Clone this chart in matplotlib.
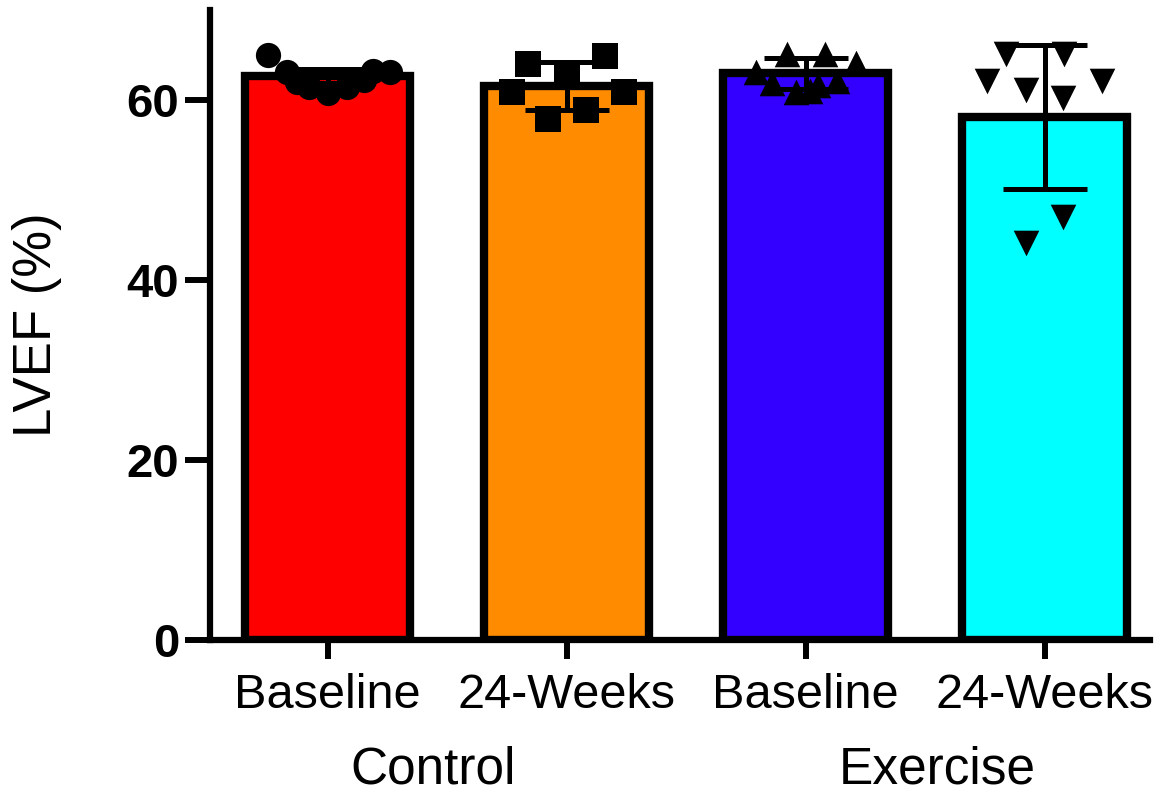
import matplotlib
matplotlib.use("Agg")
import matplotlib.pyplot as plt
import numpy as np

plt.rcParams['font.family'] = ['Liberation Sans', 'DejaVu Sans']

# bar labels and groups
tick_labels = ['Baseline', '24-Weeks', 'Baseline', '24-Weeks']
groups = ['Control', 'Exercise']
group_x = [0.44, 2.55]

# means and SD
means = [62.7, 61.6, 63.0, 58.1]
sds = [0.8, 2.7, 1.7, 8.0]

# individual points (jitter offset, value)
ctrl_base_x = [-0.25, -0.17, -0.13, -0.08, 0.0, 0.08, 0.15, 0.19, 0.26]
ctrl_base_y = [65.0, 63.1, 62.0, 61.5, 60.8, 61.5, 62.3, 63.3, 63.1]
ctrl_24_x = [-0.16, 0.16, -0.23, 0.24, -0.08, 0.08, 0.0]
ctrl_24_y = [64.0, 64.9, 60.9, 60.9, 57.9, 58.9, 63.0]
ex_base_x = [-0.08, 0.08, 0.21, -0.21, -0.14, 0.05, -0.04, 0.02, 0.13]
ex_base_y = [65.2, 65.2, 64.1, 63.1, 61.9, 61.7, 60.9, 61.0, 62.2]
ex_24_x = [-0.16, 0.08, -0.24, -0.08, 0.24, 0.075, 0.075, -0.08]
ex_24_y = [65.2, 65.1, 62.1, 61.2, 62.1, 60.2, 47.0, 44.1]

colors = ['#FF0000', '#FF8C00', '#3300FF', '#00FFFF']
markers = ['o', 's', '^', 'v']
msizes = [330, 330, 340, 340]

fig = plt.figure(figsize=(11.58, 7.96), dpi=100)
ax = fig.add_axes([0.181, 0.196, 0.812, 0.791])

pos = np.arange(len(means))
ax.bar(pos, means, width=0.69, color=colors, edgecolor='black', linewidth=6, zorder=1)
ax.errorbar(pos, means, yerr=sds, fmt='none', ecolor='black', elinewidth=3.6,
            capsize=30, capthick=3.6, zorder=2)

pts_x = [ctrl_base_x, ctrl_24_x, ex_base_x, ex_24_x]
pts_y = [ctrl_base_y, ctrl_24_y, ex_base_y, ex_24_y]
for i in range(4):
    ax.scatter(np.array(pts_x[i]) + pos[i], pts_y[i], marker=markers[i], s=msizes[i],
               color='black', linewidths=0, zorder=3)

ax.set_ylim(0, 70)
ax.set_xlim(-0.494, 3.44)
ax.set_yticks([0, 20, 40, 60])
ax.set_xticks(pos)
ax.set_xticklabels(tick_labels, fontsize=35)
ax.tick_params(axis='y', length=18, width=4.3, labelsize=34, pad=4)
ax.tick_params(axis='x', length=14, width=4.3, pad=10)
for lab in ax.get_yticklabels():
    lab.set_fontweight('bold')

for s in ['top', 'right']:
    ax.spines[s].set_visible(False)
for s in ['left', 'bottom']:
    ax.spines[s].set_linewidth(4.5)

ax.set_ylabel('LVEF (%)', fontsize=38, labelpad=46)

for gx, g in zip(group_x, groups):
    ax.text(gx, -0.206, g, transform=ax.get_xaxis_transform(),
            ha='center', va='center', fontsize=37)

fig.savefig('out.png', dpi=100)
